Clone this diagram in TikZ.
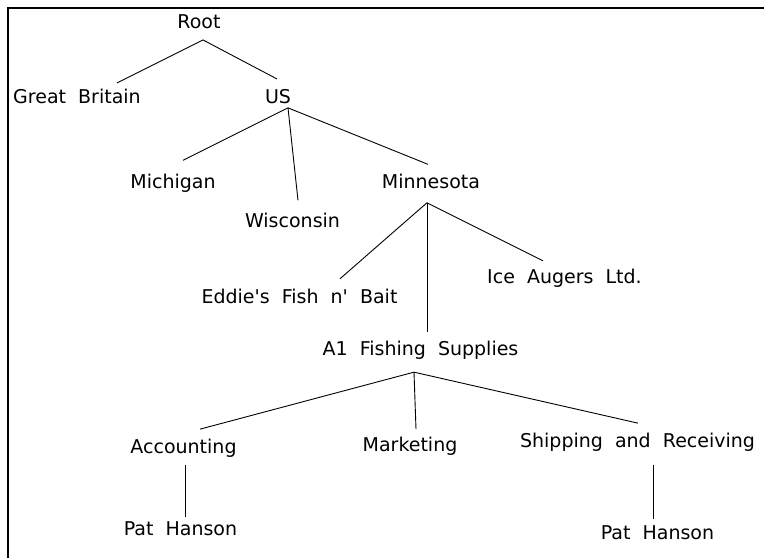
\documentclass[tikz,border=0pt]{standalone}
\usepackage{fontspec}
\newfontfamily\treefont[WordSpace=2]{DejaVu Sans}
\usetikzlibrary{positioning}

\begin{document}
\begin{tikzpicture}

	\tikzstyle{entry} = [inner sep=0pt, text height=14pt, text depth=4.5pt, font=\treefont\fontsize{19}{22}\selectfont]
	\tikzstyle{line} = [draw, line width=0.9pt]
	\tikzstyle{frame} = [draw, line width=1.6pt]

	\useasboundingbox (0,0) rectangle (764pt,-558pt);
	\draw [frame] (8pt,-558pt) -- (8pt,-8pt) -- (764pt,-8pt);

	% root
	\node [entry] (root) at (199pt,-24pt) {Root};
	\node [entry,below=55.5pt of root,xshift=-122pt] (gb) {Great Britain};
	\node [entry,below=55.5pt of root,xshift=79pt] (us) {US};

	% states
	\node [entry,below=66.5pt of us,xshift=-105pt] (mi) {Michigan};
	\node [entry,below=105.5pt of us,xshift=14.5pt] (wi) {Wisconsin};
	\node [entry,below=66.5pt of us,xshift=153pt] (mn) {Minnesota};

	% companies
	\node [entry,below=96.5pt of mn,xshift=-131.5pt] (ef) {Eddie's Fish n' Bait};
	\node [entry,below=76.5pt of mn,xshift=133.5pt] (ia) {Ice Augers Ltd.};
	\node [entry,below=148.5pt of mn,xshift=-10.5pt] (a1) {A1 Fishing Supplies};

	% departments
	\node [entry,below=78.5pt of a1,xshift=-237pt] (acc) {Accounting};
	\node [entry,below=76.5pt of a1,xshift=-10.5pt] (mkt) {Marketing};
	\node [entry,below=72.5pt of a1,xshift=217pt] (sr) {Shipping and Receiving};

	% people
	\node [entry,below=63.5pt of acc,xshift=-3pt] (ph1) {Pat Hanson};
	\node [entry,below=73.5pt of sr,xshift=20pt] (ph2) {Pat Hanson};

	% Lines
	\coordinate (rootfork) at ([xshift=4pt,yshift=-6.5pt]root.south);
	\draw [line] ([xshift=40pt,yshift=6pt]gb.north) -- (rootfork) -- ([xshift=-1pt,yshift=10pt]us.north);

	\coordinate (usfork) at ([xshift=10pt]us.south);
	\draw [line] (usfork) -- ([xshift=10pt,yshift=14pt]mi.north);
	\draw [line] (usfork) -- ([xshift=5.5pt,yshift=13pt]wi.north);
	\draw [line] (usfork) -- ([xshift=-3pt,yshift=10pt]mn.north);

	\coordinate (mnfork) at ([xshift=-4pt,yshift=-9.5pt]mn.south);
	\draw [line] (mnfork) -- ([xshift=40.5pt,yshift=11pt]ef.north);
	\draw [line] (mnfork) -- ([xshift=6.5pt,yshift=10pt]a1.north);
	\draw [line] (mnfork) -- ([xshift=-21.5pt,yshift=9pt]ia.north);

	\coordinate (a1fork) at ([xshift=-6.5pt,yshift=-11.5pt]a1.south);
	\draw [line] (a1fork) -- ([xshift=16.5pt,yshift=10pt]acc.north);
	\draw [line] (a1fork) -- ([xshift=6pt,yshift=8pt]mkt.north);
	\draw [line] (a1fork) -- ([xshift=0.5pt,yshift=10pt]sr.north);

	\draw [line] ([xshift=1.5pt,yshift=-6.5pt]acc.south) -- ([xshift=4.5pt,yshift=5pt]ph1.north);
	\draw [line] ([xshift=15.5pt,yshift=-12.5pt]sr.south) -- ([xshift=-4.5pt,yshift=7pt]ph2.north);

\end{tikzpicture}
\end{document}
